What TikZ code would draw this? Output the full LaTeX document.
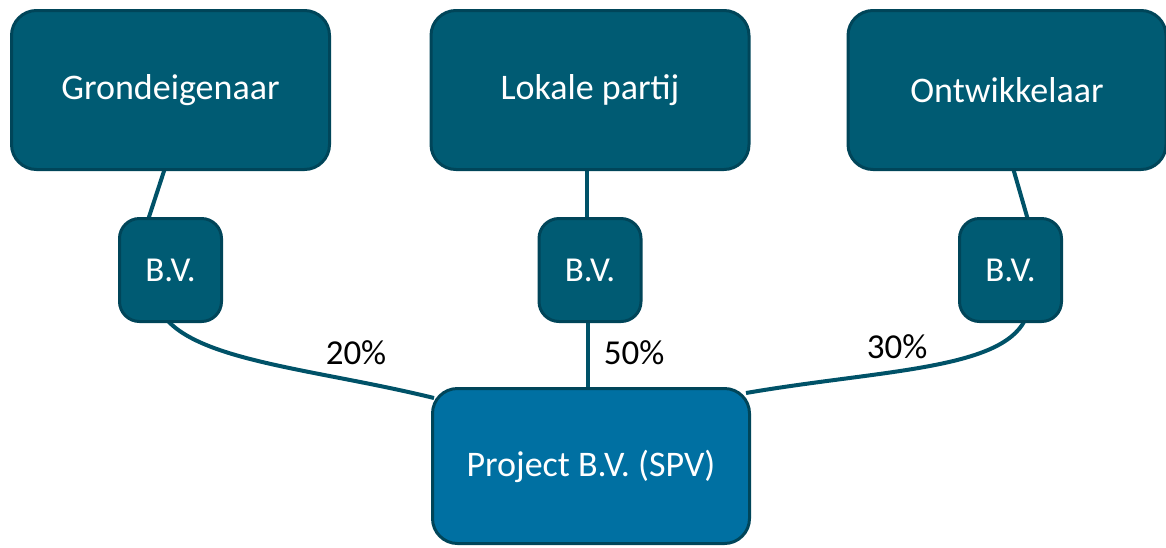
\documentclass[tikz,border=0pt]{standalone}
\usepackage{fontspec}
\setmainfont{Carlito}
\usetikzlibrary{positioning}
\definecolor{tealbox}{RGB}{0,91,115}
\definecolor{tealedge}{RGB}{0,69,89}
\definecolor{spvbox}{RGB}{0,112,162}
\definecolor{linkcol}{RGB}{0,82,104}
\tikzset{
  party/.style={draw=tealedge, fill=tealbox, line width=3pt, rounded corners=25pt,
    minimum width=318pt, minimum height=159pt, text=white, inner sep=0pt,
    font=\fontsize{36}{42}\selectfont},
  bvbox/.style={draw=tealedge, fill=tealbox, line width=3pt, rounded corners=20pt,
    minimum width=102pt, minimum height=103pt, text=white, inner sep=0pt,
    font=\fontsize{35}{42}\selectfont},
  spv/.style={draw=tealedge, fill=spvbox, line width=3pt, rounded corners=25pt,
    minimum width=317pt, minimum height=155pt, text=white, inner sep=0pt,
    font=\fontsize{36}{42}\selectfont},
  link/.style={draw=linkcol, line width=4pt},
  share/.style={text=black, inner sep=0pt, font=\fontsize{35}{42}\selectfont}
}
\begin{document}
\begin{tikzpicture}[x=1pt,y=-1pt]
\useasboundingbox (0,0) rectangle (1166,547);
% connectors
\coordinate (g1) at (165,168);
\coordinate (g2) at (148,220);
\coordinate (l1) at (587,168);
\coordinate (l2) at (587,220);
\coordinate (o1) at (1013,168);
\coordinate (o2) at (1028,220);
\coordinate (bl) at (167,320);
\coordinate (bm) at (588,320);
\coordinate (br) at (1025,320);
\coordinate (pl) at (434,398);
\coordinate (pm) at (588,390);
\coordinate (pr) at (746,393);
\draw[link] (g1) -- (g2);
\draw[link] (l1) -- (l2);
\draw[link] (o1) -- (o2);
\draw[link] (bl) .. controls (205,362) and (320,370) .. (pl);
\draw[link] (bm) -- (pm);
\draw[link] (br) .. controls (1000,370) and (880,370) .. (pr);
% boxes
\node[party] (grond) at (170.5,90) {\raisebox{-2pt}{Grondeigenaar}};
\node[party] (lokaal) at (590,90) {\raisebox{-2pt}{Lokale partij}};
\node[party] (ontw) at (1007,90) {\raisebox{-2pt}{Ontwikkelaar}};
\node[bvbox] (bvg) at (170.5,270) {B.V.};
\node[bvbox] (bvl) at (590,270) {B.V.};
\node[bvbox] (bvo) at (1010.5,270) {B.V.};
\node[spv] (proj) at (591,466) {\raisebox{-3pt}{Project B.V. (SPV)}};
% share labels
\node[share] (p20) at (356,353) {20\%};
\node[share] (p50) at (634,353) {50\%};
\node[share] (p30) at (897,347) {30\%};
\end{tikzpicture}
\end{document}
